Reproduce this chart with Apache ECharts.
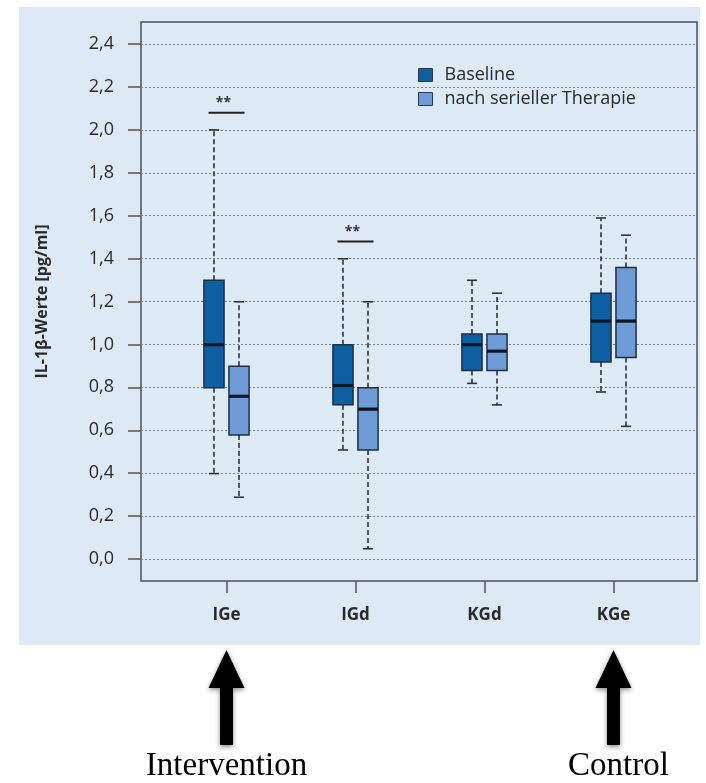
<!DOCTYPE html>
<html>
<head>
<meta charset="utf-8">
<script src="https://cdn.jsdelivr.net/npm/echarts@6/dist/echarts.min.js"></script>
<style>
html,body{margin:0;padding:0;background:#fff;}
#chart{width:706px;height:783px;}
</style>
</head>
<body>
<div id="chart"></div>
<script>
// ---- data ----
const categories = ['IGe', 'IGd', 'KGd', 'KGe'];
const seriesNames = ['Baseline', 'nach serieller Therapie'];
// [low whisker, Q1, median, Q3, high whisker]
const baselineValues = [
  [0.40, 0.80, 1.00, 1.30, 2.00],
  [0.51, 0.72, 0.81, 1.00, 1.40],
  [0.82, 0.88, 1.00, 1.05, 1.30],
  [0.78, 0.92, 1.11, 1.24, 1.59]
];
const therapyValues = [
  [0.29, 0.58, 0.76, 0.90, 1.20],
  [0.05, 0.51, 0.70, 0.80, 1.20],
  [0.72, 0.88, 0.97, 1.05, 1.24],
  [0.62, 0.94, 1.11, 1.36, 1.51]
];
const yTickValues = [0, 0.2, 0.4, 0.6, 0.8, 1.0, 1.2, 1.4, 1.6, 1.8, 2.0, 2.2, 2.4];
const yTickLabels = ['0,0','0,2','0,4','0,6','0,8','1,0','1,2','1,4','1,6','1,8','2,0','2,2','2,4'];
const sigCategories = ['IGe', 'IGd'];
const sigLevels = [2.08, 1.48];
const sigText = ['**', '**'];
const groupLabels = ['Intervention', 'Control'];
const groupCategories = ['IGe', 'KGe'];

const colors = ['#0d5fa4', '#6d9cd8'];
const font = '"Open Sans", "Noto Sans", sans-serif';

function boxRender(sign) {
  return function (params, api) {
    const cat = api.value(0);
    const low = api.value(1), q1 = api.value(2), med = api.value(3), q3 = api.value(4), high = api.value(5);
    const band = api.size([1, 0])[0];
    const cx = api.coord([cat, med])[0] + sign * band * 0.097;
    const halfW = band * 0.078;
    const yLow = api.coord([cat, low])[1];
    const yQ1 = api.coord([cat, q1])[1];
    const yMed = api.coord([cat, med])[1];
    const yQ3 = api.coord([cat, q3])[1];
    const yHigh = api.coord([cat, high])[1];
    const dark = '#1d2e45';
    const wStyle = { stroke: '#2b3440', lineWidth: 1.6, lineDash: [5, 3] };
    const capStyle = { stroke: '#2b3440', lineWidth: 1.6 };
    return {
      type: 'group',
      children: [
        { type: 'line', shape: { x1: cx, y1: yQ3, x2: cx, y2: yHigh }, style: wStyle },
        { type: 'line', shape: { x1: cx, y1: yQ1, x2: cx, y2: yLow }, style: wStyle },
        { type: 'line', shape: { x1: cx - 5, y1: yHigh, x2: cx + 5, y2: yHigh }, style: capStyle },
        { type: 'line', shape: { x1: cx - 5, y1: yLow, x2: cx + 5, y2: yLow }, style: capStyle },
        { type: 'rect', shape: { x: cx - halfW, y: yQ3, width: halfW * 2, height: yQ1 - yQ3 },
          style: { fill: api.visual('color'), stroke: dark, lineWidth: 1.5 } },
        { type: 'line', shape: { x1: cx - halfW, y1: yMed, x2: cx + halfW, y2: yMed },
          style: { stroke: '#0b1526', lineWidth: 3.2 } }
      ]
    };
  };
}

function sigRender(params, api) {
  const p = api.coord([api.value(0), api.value(1)]);
  return {
    type: 'group',
    children: [
      { type: 'line', shape: { x1: p[0] - 18, y1: p[1], x2: p[0] + 18, y2: p[1] },
        style: { stroke: '#222', lineWidth: 2 } },
      { type: 'text', style: { text: sigText[params.dataIndex], x: p[0] - 3, y: p[1] - 10,
          align: 'center', verticalAlign: 'middle', fill: '#333', font: 'bold 14px ' + font } }
    ]
  };
}

const chart = echarts.init(document.getElementById('chart'));
const option = {
  backgroundColor: '#ffffff',
  animation: false,
  graphic: [
    { type: 'rect', z: -10, shape: { x: 19, y: 7, width: 681, height: 638 }, style: { fill: '#dde9f5' } }
  ],
  legend: {
    orient: 'vertical', left: 413, top: 60, itemWidth: 14, itemHeight: 13, itemGap: 4,
    data: seriesNames, icon: 'rect',
    itemStyle: { borderColor: '#2a3a55', borderWidth: 1 },
    textStyle: { fontFamily: font, fontSize: 18, lineHeight: 20, color: '#2a2a2a', padding: [0, 0, 0, 7] }
  },
  grid: [
    { left: 141, right: 9, top: 22, bottom: 202, show: true, borderColor: '#4a4f57', borderWidth: 1.5, backgroundColor: 'transparent' },
    { left: 141, right: 9, top: 44, bottom: 224 },
    { left: 162, right: 28, top: 44, bottom: 202 }
  ],
  xAxis: [
    { gridIndex: 0, type: 'value', show: false },
    { gridIndex: 1, type: 'value', show: false },
    { gridIndex: 2, type: 'category', data: categories,
      axisLine: { show: false, onZero: false },
      axisTick: { show: true, inside: false, alignWithLabel: true, length: 12, lineStyle: { color: '#555', width: 1.5 } },
      axisLabel: { margin: 26, fontFamily: font, fontWeight: 'bold', fontSize: 17, color: '#2a2a2a' },
      splitLine: { show: false } }
  ],
  yAxis: [
    { gridIndex: 0, type: 'value', show: false },
    { gridIndex: 1, type: 'value', min: 0, max: 2.4, interval: 0.2,
      name: 'IL-1β-Werte [pg/ml]', nameLocation: 'middle', nameGap: 91, nameRotate: 90,
      nameTextStyle: { fontFamily: font, fontWeight: 'bold', fontSize: 16, color: '#2a2a2a' },
      axisLine: { show: false },
      axisTick: { show: true, length: 13, lineStyle: { color: '#555', width: 1.5 } },
      axisLabel: { margin: 27, fontFamily: font, fontSize: 18, color: '#2a2a2a',
        formatter: function (v) { const i = yTickValues.findIndex(t => Math.abs(t - v) < 1e-6); return i >= 0 ? yTickLabels[i] : ''; } },
      splitLine: { show: true, lineStyle: { color: '#7d848c', type: [2, 2], width: 1 } } },
    { gridIndex: 2, type: 'value', min: -0.1, max: 2.4, show: false, splitLine: { show: false } }
  ],
  series: [
    { name: seriesNames[0], type: 'custom', xAxisIndex: 2, yAxisIndex: 2,
      itemStyle: { color: colors[0] }, renderItem: boxRender(-1),
      encode: { x: 0, y: [1, 2, 3, 4, 5] },
      data: baselineValues.map((d, i) => [i].concat(d)) },
    { name: seriesNames[1], type: 'custom', xAxisIndex: 2, yAxisIndex: 2,
      itemStyle: { color: colors[1] }, renderItem: boxRender(1),
      encode: { x: 0, y: [1, 2, 3, 4, 5] },
      data: therapyValues.map((d, i) => [i].concat(d)) },
    { name: 'sig', type: 'custom', xAxisIndex: 2, yAxisIndex: 2, renderItem: sigRender,
      encode: { x: 0, y: 1 },
      data: sigCategories.map((c, i) => [categories.indexOf(c), sigLevels[i]]) }
  ]
};
chart.setOption(option);

// arrows and group labels, placed at the category positions
const extra = [];
groupCategories.forEach((c, i) => {
  const cx = chart.convertToPixel({ xAxisIndex: 2 }, c);
  extra.push({
    type: 'polygon', z: 10,
    shape: { points: [[cx, 650], [cx - 18, 688], [cx - 6.5, 688], [cx - 6.5, 745], [cx + 6.5, 745], [cx + 6.5, 688], [cx + 18, 688]] },
    style: { fill: '#000', shadowBlur: 5, shadowColor: 'rgba(0,0,0,0.45)', shadowOffsetY: 2 }
  });
  extra.push({
    type: 'text', z: 10,
    style: { text: groupLabels[i], x: cx + (i === 1 ? 5 : 0), y: 766, align: 'center', verticalAlign: 'middle',
      font: '33px "Liberation Serif", "DejaVu Serif", serif', fill: '#000' }
  });
});
chart.setOption({ graphic: option.graphic.concat(extra) });
</script>
</body>
</html>
